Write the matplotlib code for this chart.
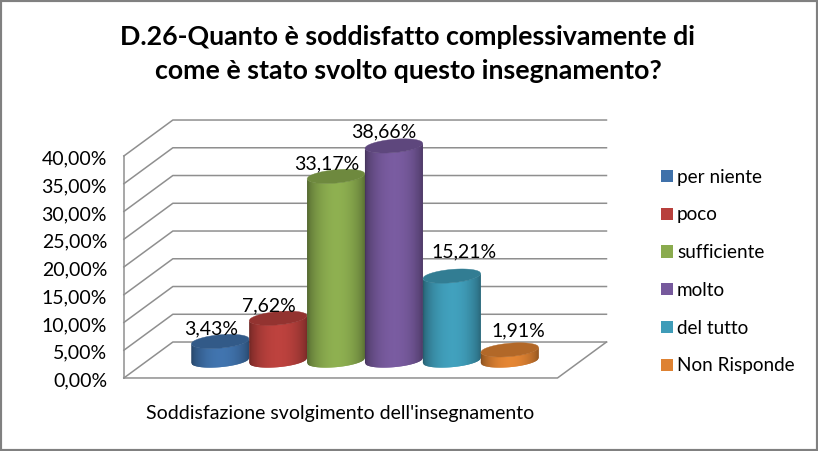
import numpy as np
import matplotlib
matplotlib.use("Agg")
import matplotlib.pyplot as plt
from matplotlib.patches import Patch

plt.rcParams['font.family'] = ['Lato', 'DejaVu Sans']

categories = ['per niente', 'poco', 'sufficiente', 'molto', 'del tutto', 'Non Risponde']
values = [3.43, 7.62, 33.17, 38.66, 15.21, 1.91]
value_labels = ['3,43%', '7,62%', '33,17%', '38,66%', '15,21%', '1,91%']
ticks = [0, 5, 10, 15, 20, 25, 30, 35, 40]
tick_labels = ['0,00%', '5,00%', '10,00%', '15,00%', '20,00%', '25,00%', '30,00%', '35,00%', '40,00%']
colors = ['#3f71aa', '#b8403c', '#8aab4e', '#76599c', '#3f9cb8', '#de8232']
title = 'D.26-Quanto è soddisfatto complessivamente di\ncome è stato svolto questo insegnamento?'
xlabel = "Soddisfazione svolgimento dell'insegnamento"

# label nudges in points, the labels don't sit centred over the cylinders
label_dx = [-6, -6, -6.5, -7, 9, 6.5]
label_dy = [8.5, 8.5, 9, 9.5, 17, 13.5]

# px scale of one category / one percent
PX_X = 57.9
PX_Y = 5.55
DEPTH_X = 0.423
DEPTH_Y = 3.24
LEFT = -1.232
RIGHT = 6.257
GRID = '#8f8f8f'

fig = plt.figure(figsize=(8.18, 4.51), dpi=100)
ax = fig.add_axes([0, 0, 1, 1])
ax.set_xlim(-219.7 / PX_X, (818 - 219.7) / PX_X)
ax.set_ylim((360 - 451) / PX_Y, 360 / PX_Y)
ax.set_xticks([])
ax.set_yticks([])
for s in ax.spines.values():
    s.set_color('#808080')
    s.set_linewidth(3)

# walls and floor
for t in ticks:
    ax.plot([LEFT - DEPTH_X, LEFT + DEPTH_X, RIGHT + DEPTH_X],
            [t - DEPTH_Y, t + DEPTH_Y, t + DEPTH_Y], color=GRID, lw=1.1, zorder=1)
ax.plot([LEFT - DEPTH_X, LEFT - DEPTH_X], [-DEPTH_Y, ticks[-1] - DEPTH_Y], color=GRID, lw=1.1, zorder=1)
ax.plot([LEFT - DEPTH_X, RIGHT - DEPTH_X, RIGHT + DEPTH_X],
        [-DEPTH_Y, -DEPTH_Y, DEPTH_Y], color=GRID, lw=1.1, zorder=1)

for t, lab in zip(ticks, tick_labels):
    ax.text(LEFT - DEPTH_X - 0.29, t - DEPTH_Y - 0.55, lab, ha='right', va='center', fontsize=14, color='black')

# cylinders, drawn as thin vertical strips for the shading
# each strip runs over the next one so no white shows between them
u = np.linspace(-1, 1, 60)
half = 0.5
rb = 1.2
tilt = 0.45
for i, (v, c) in enumerate(zip(values, colors)):
    base = np.array(matplotlib.colors.to_rgb(c))
    low = tilt * u - rb * np.sqrt(1 - u ** 2)
    up = tilt * u + rb * np.sqrt(1 - u ** 2)
    shade = 0.6 + 0.43 * np.cos(u * np.pi / 2) ** 0.6
    z = 3 + i
    for j in range(len(u) - 1):
        col = np.clip(base * shade[j], 0, 1)
        xs = i + half * u[j:j + 3]
        ax.fill_between(xs, low[j:j + 3], v + low[j:j + 3], color=col, lw=0, zorder=z)
    ax.fill_between(i + half * u, v + low, v + up, color=base * 0.8, lw=0.3, zorder=z)
    ax.annotate(value_labels[i], (i, v), xytext=(label_dx[i], label_dy[i]), textcoords='offset points',
                ha='center', va='center', fontsize=14, color='black', zorder=10)

# legend
handles = [Patch(facecolor=c, edgecolor='none') for c in colors]
ax.legend(handles, categories, loc='center left', bbox_to_anchor=(661 / 818, 1 - 271.5 / 451), frameon=False,
          fontsize=13.6, handlelength=0.63, handleheight=0.63, handletextpad=0.22,
          labelspacing=1.1, borderpad=0, borderaxespad=0)

fig.text(340 / 818, 1 - 414 / 451, xlabel, ha='center', va='center', fontsize=14, color='black')
fig.text(408 / 818, 1 - 54 / 451, title, ha='center', va='center', fontsize=19.3, fontweight='bold',
         color='black', linespacing=1.5)

fig.savefig('out.png', dpi=100)
